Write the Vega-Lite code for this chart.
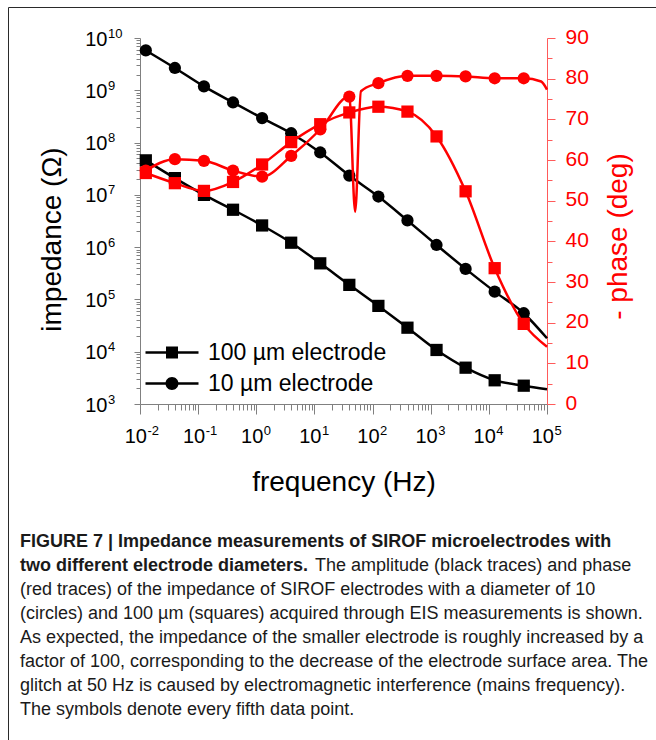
{
  "$schema": "https://vega.github.io/schema/vega-lite/v6.json",
  "width": 407,
  "height": 366,
  "autosize": "none",
  "padding": {"left": 140, "top": 38, "right": 109, "bottom": 336},
  "background": "white",
  "datasets": {
    "impedance": [
      {"k": 0, "f": 0.012589, "electrode": "10 µm", "Z": 5.79e9},
      {"k": 5, "f": 0.039811, "electrode": "10 µm", "Z": 2.67e9},
      {"k": 10, "f": 0.12589, "electrode": "10 µm", "Z": 1.186e9},
      {"k": 15, "f": 0.39811, "electrode": "10 µm", "Z": 5.85e8},
      {"k": 20, "f": 1.2589, "electrode": "10 µm", "Z": 2.94e8},
      {"k": 25, "f": 3.9811, "electrode": "10 µm", "Z": 1.51e8},
      {"k": 30, "f": 12.589, "electrode": "10 µm", "Z": 6.46e7},
      {"k": 35, "f": 39.811, "electrode": "10 µm", "Z": 2.34e7},
      {"k": 40, "f": 125.89, "electrode": "10 µm", "Z": 9.29e6},
      {"k": 45, "f": 398.11, "electrode": "10 µm", "Z": 3.24e6},
      {"k": 50, "f": 1258.9, "electrode": "10 µm", "Z": 1.10e6},
      {"k": 55, "f": 3981.1, "electrode": "10 µm", "Z": 3.84e5},
      {"k": 60, "f": 12589, "electrode": "10 µm", "Z": 1.41e5},
      {"k": 65, "f": 39811, "electrode": "10 µm", "Z": 5.45e4},
      {"k": 69, "f": 100000, "electrode": "10 µm", "Z": 1.81e4},
      {"k": 0, "f": 0.012589, "electrode": "100 µm", "Z": 4.57e7},
      {"k": 5, "f": 0.039811, "electrode": "100 µm", "Z": 2.09e7},
      {"k": 10, "f": 0.12589, "electrode": "100 µm", "Z": 1.0e7},
      {"k": 15, "f": 0.39811, "electrode": "100 µm", "Z": 5.19e6},
      {"k": 20, "f": 1.2589, "electrode": "100 µm", "Z": 2.6e6},
      {"k": 25, "f": 3.9811, "electrode": "100 µm", "Z": 1.216e6},
      {"k": 30, "f": 12.589, "electrode": "100 µm", "Z": 4.9e5},
      {"k": 35, "f": 39.811, "electrode": "100 µm", "Z": 1.9e5},
      {"k": 40, "f": 125.89, "electrode": "100 µm", "Z": 7.52e4},
      {"k": 45, "f": 398.11, "electrode": "100 µm", "Z": 2.88e4},
      {"k": 50, "f": 1258.9, "electrode": "100 µm", "Z": 1.08e4},
      {"k": 55, "f": 3981.1, "electrode": "100 µm", "Z": 4.95e3},
      {"k": 60, "f": 12589, "electrode": "100 µm", "Z": 2.84e3},
      {"k": 65, "f": 39811, "electrode": "100 µm", "Z": 2.24e3},
      {"k": 69, "f": 100000, "electrode": "100 µm", "Z": 1.91e3}
    ],
    "phase": [
      {"k": 0, "f": 0.012589, "electrode": "10 µm", "phase": 57.4},
      {"k": 5, "f": 0.039811, "electrode": "10 µm", "phase": 60.2},
      {"k": 10, "f": 0.12589, "electrode": "10 µm", "phase": 59.8},
      {"k": 15, "f": 0.39811, "electrode": "10 µm", "phase": 57.4},
      {"k": 20, "f": 1.2589, "electrode": "10 µm", "phase": 55.9},
      {"k": 25, "f": 3.9811, "electrode": "10 µm", "phase": 61.0},
      {"k": 30, "f": 12.589, "electrode": "10 µm", "phase": 67.5},
      {"k": 35, "f": 39.811, "electrode": "10 µm", "phase": 75.6},
      {"k": 36, "f": 50.119, "electrode": "10 µm", "phase": 47.3},
      {"k": 37, "f": 63.096, "electrode": "10 µm", "phase": 76.9},
      {"k": 40, "f": 125.89, "electrode": "10 µm", "phase": 78.9},
      {"k": 45, "f": 398.11, "electrode": "10 µm", "phase": 80.7},
      {"k": 50, "f": 1258.9, "electrode": "10 µm", "phase": 80.7},
      {"k": 55, "f": 3981.1, "electrode": "10 µm", "phase": 80.55},
      {"k": 60, "f": 12589, "electrode": "10 µm", "phase": 80.1},
      {"k": 65, "f": 39811, "electrode": "10 µm", "phase": 80.1},
      {"k": 68, "f": 79433, "electrode": "10 µm", "phase": 79.3},
      {"k": 69, "f": 100000, "electrode": "10 µm", "phase": 77.3},
      {"k": 0, "f": 0.012589, "electrode": "100 µm", "phase": 56.8},
      {"k": 5, "f": 0.039811, "electrode": "100 µm", "phase": 54.3},
      {"k": 10, "f": 0.12589, "electrode": "100 µm", "phase": 52.4},
      {"k": 15, "f": 0.39811, "electrode": "100 µm", "phase": 54.6},
      {"k": 20, "f": 1.2589, "electrode": "100 µm", "phase": 58.9},
      {"k": 25, "f": 3.9811, "electrode": "100 µm", "phase": 64.4},
      {"k": 30, "f": 12.589, "electrode": "100 µm", "phase": 68.8},
      {"k": 35, "f": 39.811, "electrode": "100 µm", "phase": 71.7},
      {"k": 40, "f": 125.89, "electrode": "100 µm", "phase": 73.1},
      {"k": 45, "f": 398.11, "electrode": "100 µm", "phase": 71.9},
      {"k": 50, "f": 1258.9, "electrode": "100 µm", "phase": 65.8},
      {"k": 55, "f": 3981.1, "electrode": "100 µm", "phase": 52.3},
      {"k": 60, "f": 12589, "electrode": "100 µm", "phase": 33.4},
      {"k": 65, "f": 39811, "electrode": "100 µm", "phase": 19.7},
      {"k": 69, "f": 100000, "electrode": "100 µm", "phase": 14.1}
    ]
  },
  "title": {
    "text": ["FIGURE 7 | Impedance measurements of SIROF microelectrodes with", "two different electrode diameters."],
    "subtitle": [
      "\u200b\u00a0\u00a0\u00a0\u00a0\u00a0\u00a0\u00a0\u00a0\u00a0\u00a0\u00a0\u00a0\u00a0\u00a0\u00a0\u00a0\u00a0\u00a0\u00a0\u00a0\u00a0\u00a0\u00a0\u00a0\u00a0\u00a0\u00a0\u00a0\u00a0\u00a0\u00a0\u00a0\u00a0\u00a0\u00a0\u00a0\u00a0\u00a0\u00a0\u00a0\u00a0\u00a0\u00a0\u00a0\u00a0\u00a0\u00a0\u00a0\u00a0\u00a0\u00a0\u00a0\u00a0\u00a0\u00a0\u00a0\u00a0\u00a0\u00a0The amplitude (black traces) and phase",
      "(red traces) of the impedance of SIROF electrodes with a diameter of 10",
      "(circles) and 100 µm (squares) acquired through EIS measurements is shown.",
      "As expected, the impedance of the smaller electrode is roughly increased by a",
      "factor of 100, corresponding to the decrease of the electrode surface area. The",
      "glitch at 50 Hz is caused by electromagnetic interference (mains frequency).",
      "The symbols denote every fifth data point."
    ],
    "orient": "bottom",
    "anchor": "start",
    "frame": "group",
    "align": "left",
    "dx": -120,
    "offset": -216,
    "font": "Liberation Sans",
    "fontSize": 18,
    "fontWeight": "bold",
    "lineHeight": 24,
    "color": "#1a1a1a",
    "subtitleFont": "Liberation Sans",
    "subtitleFontSize": 18,
    "subtitleFontWeight": "normal",
    "subtitleLineHeight": 24,
    "subtitleColor": "#1a1a1a",
    "subtitlePadding": -18
  },
  "layer": [
    {
      "data": {"name": "impedance"},
      "mark": {"type": "line", "color": "black", "strokeWidth": 2.5, "interpolate": "monotone"},
      "encoding": {
        "x": {
          "field": "f", "type": "quantitative",
          "scale": {"type": "log", "domain": [0.01, 100000], "nice": false},
          "axis": {
            "orient": "bottom",
            "title": "frequency (Hz)",
            "values": [0.01,0.02,0.03,0.04,0.05,0.06,0.07,0.08,0.09,0.1,0.2,0.3,0.4,0.5,0.6,0.7,0.8,0.9,1,2,3,4,5,6,7,8,9,10,20,30,40,50,60,70,80,90,100,200,300,400,500,600,700,800,900,1000,2000,3000,4000,5000,6000,7000,8000,9000,10000,20000,30000,40000,50000,60000,70000,80000,90000,100000],
            "labelExpr": "abs(log(datum.value)/LN10 - round(log(datum.value)/LN10)) < 0.000001 ? '10' : ''",
            "tickSize": {"condition": {"test": "abs(log(datum.value)/LN10 - round(log(datum.value)/LN10)) < 0.000001", "value": 10}, "value": 6},
            "tickColor": "#808080", "domainColor": "#808080", "tickWidth": 1, "domainWidth": 1,
            "labelFontSize": 20, "labelColor": "black", "labelAlign": "right", "labelBaseline": "alphabetic",
            "labelOffset": 6.5, "labelPadding": 28,
            "labelOverlap": false, "labelFlush": false, "labelBound": false,
            "titleFontSize": 28, "titleColor": "black", "titleBaseline": "alphabetic", "titleY": 86
          }
        },
        "y": {
          "field": "Z", "type": "quantitative",
          "scale": {"type": "log", "domain": [1000, 1e10], "nice": false},
          "axis": {
            "orient": "left",
            "title": "impedance (Ω)",
            "values": [1000,2000,3000,4000,5000,6000,7000,8000,9000,1e4,2e4,3e4,4e4,5e4,6e4,7e4,8e4,9e4,1e5,2e5,3e5,4e5,5e5,6e5,7e5,8e5,9e5,1e6,2e6,3e6,4e6,5e6,6e6,7e6,8e6,9e6,1e7,2e7,3e7,4e7,5e7,6e7,7e7,8e7,9e7,1e8,2e8,3e8,4e8,5e8,6e8,7e8,8e8,9e8,1e9,2e9,3e9,4e9,5e9,6e9,7e9,8e9,9e9,1e10],
            "labelExpr": "abs(log(datum.value)/LN10 - round(log(datum.value)/LN10)) < 0.000001 ? '10' : ''",
            "tickSize": {"condition": {"test": "abs(log(datum.value)/LN10 - round(log(datum.value)/LN10)) < 0.000001", "value": 6}, "value": 4},
            "tickColor": "#808080", "domainColor": "#808080", "tickWidth": 1, "domainWidth": 1,
            "labelFontSize": 20, "labelColor": "black", "labelAlign": "right", "labelBaseline": "alphabetic",
            "labelOffset": 7, "labelPadding": 27,
            "labelOverlap": false, "labelFlush": false, "labelBound": false,
            "titleFontSize": 28, "titleColor": "black", "titleAngle": 270, "titleAlign": "center",
            "titleBaseline": "alphabetic", "titleX": -80, "titleY": 201
          }
        },
        "detail": {"field": "electrode"}
      }
    },
    {
      "data": {"name": "impedance"},
      "transform": [{"filter": "datum.k % 5 == 0"}],
      "mark": {"type": "point", "filled": true, "color": "black", "size": 150, "opacity": 1},
      "encoding": {
        "x": {
          "field": "f", "type": "quantitative",
          "scale": {"type": "log", "domain": [0.01, 100000], "nice": false},
          "axis": {
            "orient": "bottom", "title": null, "domain": false, "grid": false,
            "values": [0.01, 0.1, 1, 10, 100, 1000, 10000, 100000],
            "labelExpr": "'' + round(log(datum.value)/LN10)",
            "tickSize": 10, "tickColor": "transparent",
            "labelFontSize": 13, "labelColor": "black", "labelAlign": "left", "labelBaseline": "alphabetic",
            "labelOffset": 7, "labelPadding": 20.5,
            "labelOverlap": false, "labelFlush": false, "labelBound": false
          }
        },
        "y": {
          "field": "Z", "type": "quantitative",
          "scale": {"type": "log", "domain": [1000, 1e10], "nice": false},
          "axis": {
            "orient": "left", "title": null, "domain": false, "grid": false,
            "values": [1000, 1e4, 1e5, 1e6, 1e7, 1e8, 1e9, 1e10],
            "labelExpr": "'' + round(log(datum.value)/LN10)",
            "tickSize": 6, "tickColor": "transparent",
            "labelFontSize": 13, "labelColor": "black", "labelAlign": "left", "labelBaseline": "alphabetic",
            "labelOffset": -1, "labelPadding": 26.5,
            "labelOverlap": false, "labelFlush": false, "labelBound": false
          }
        },
        "shape": {
          "field": "electrode", "type": "nominal",
          "scale": {"domain": ["100 µm", "10 µm"], "range": ["square", "circle"]},
          "legend": null
        }
      }
    },
    {
      "data": {"name": "phase"},
      "encoding": {
        "x": {
          "field": "f", "type": "quantitative",
          "scale": {"type": "log", "domain": [0.01, 100000], "nice": false},
          "axis": null
        },
        "y": {
          "field": "phase", "type": "quantitative",
          "scale": {"domain": [0, 90], "nice": false},
          "axis": {
            "orient": "right",
            "title": "- phase (deg)",
            "values": [0,5,10,15,20,25,30,35,40,45,50,55,60,65,70,75,80,85,90],
            "labelExpr": "datum.value % 10 == 0 ? datum.label : ''",
            "tickSize": {"condition": {"test": "datum.value % 10 == 0", "value": 8}, "value": 5},
            "tickColor": "#ff5a5a", "domainColor": "#ff5a5a", "tickWidth": 1, "domainWidth": 1,
            "labelFontSize": 21, "labelColor": "#ff0000", "labelAlign": "left", "labelBaseline": "alphabetic",
            "labelOffset": 5, "labelPadding": 10,
            "labelOverlap": false, "labelFlush": false, "labelBound": false,
            "titleFontSize": 28, "titleColor": "#ff0000", "titleAngle": 270, "titleAlign": "center",
            "titleBaseline": "alphabetic", "titleX": 79, "titleY": 198
          }
        }
      },
      "layer": [
        {
          "mark": {"type": "line", "color": "#ff0000", "strokeWidth": 2.5, "interpolate": "monotone"},
          "encoding": {"detail": {"field": "electrode"}}
        },
        {
          "transform": [{"filter": "datum.k % 5 == 0"}],
          "mark": {"type": "point", "filled": true, "color": "#ff0000", "size": 150, "opacity": 1},
          "encoding": {
            "shape": {"field": "electrode", "type": "nominal", "scale": {"domain": ["100 µm", "10 µm"], "range": ["square", "circle"]}, "legend": null}
          }
        }
      ]
    },
    {
      "data": {"name": "impedance"},
      "transform": [{"filter": "false"}],
      "mark": {"type": "point", "filled": true, "color": "black"},
      "encoding": {
        "shape": {
          "field": "electrode", "type": "nominal",
          "scale": {
            "domain": ["100 µm", "10 µm"],
            "range": [
              "M-4.417,-0.208H4.417V0.208H-4.417Z M-1,-1H1V1H-1Z",
              "M-4.417,-0.208H4.417V0.208H-4.417Z M1.083,0A1.083,1.083,0,1,1,-1.083,0A1.083,1.083,0,1,1,1.083,0Z"
            ]
          },
          "legend": {
            "orient": "none", "legendX": 20.5, "legendY": 303, "title": null, "padding": 0,
            "labelFontSize": 23, "labelFont": "Liberation Sans", "labelColor": "black",
            "labelOffset": 24.5, "labelLimit": 0, "symbolSize": 144, "rowPadding": 7,
            "symbolFillColor": "black", "symbolStrokeWidth": 0, "symbolOpacity": 1,
            "labelExpr": "datum.value == '10 µm' ? '\u00a0\u00a010 µm electrode' : datum.value + ' electrode'"
          }
        }
      }
    },
    {
      "data": {"name": "impedance"},
      "transform": [{"filter": "false"}],
      "mark": {"type": "point", "filled": true},
      "encoding": {
        "color": {
          "field": "electrode", "type": "nominal",
          "scale": {"domain": ["figure"], "range": ["transparent"]},
          "legend": {
            "orient": "none", "legendX": -132, "legendY": -31, "title": null, "padding": 370,
            "strokeColor": "#2a2a2a", "fillColor": "transparent",
            "symbolSize": 0, "symbolOpacity": 0, "labelExpr": "''", "labelFontSize": 1
          }
        }
      }
    }
  ],
  "resolve": {
    "scale": {"y": "independent", "shape": "independent"},
    "axis": {"x": "independent", "y": "independent"},
    "legend": {"shape": "independent"}
  },
  "config": {
    "font": "Liberation Sans",
    "view": {"stroke": null},
    "axis": {"grid": false, "labelFont": "Liberation Sans", "titleFont": "Liberation Sans", "titleFontWeight": "normal"}
  }
}
